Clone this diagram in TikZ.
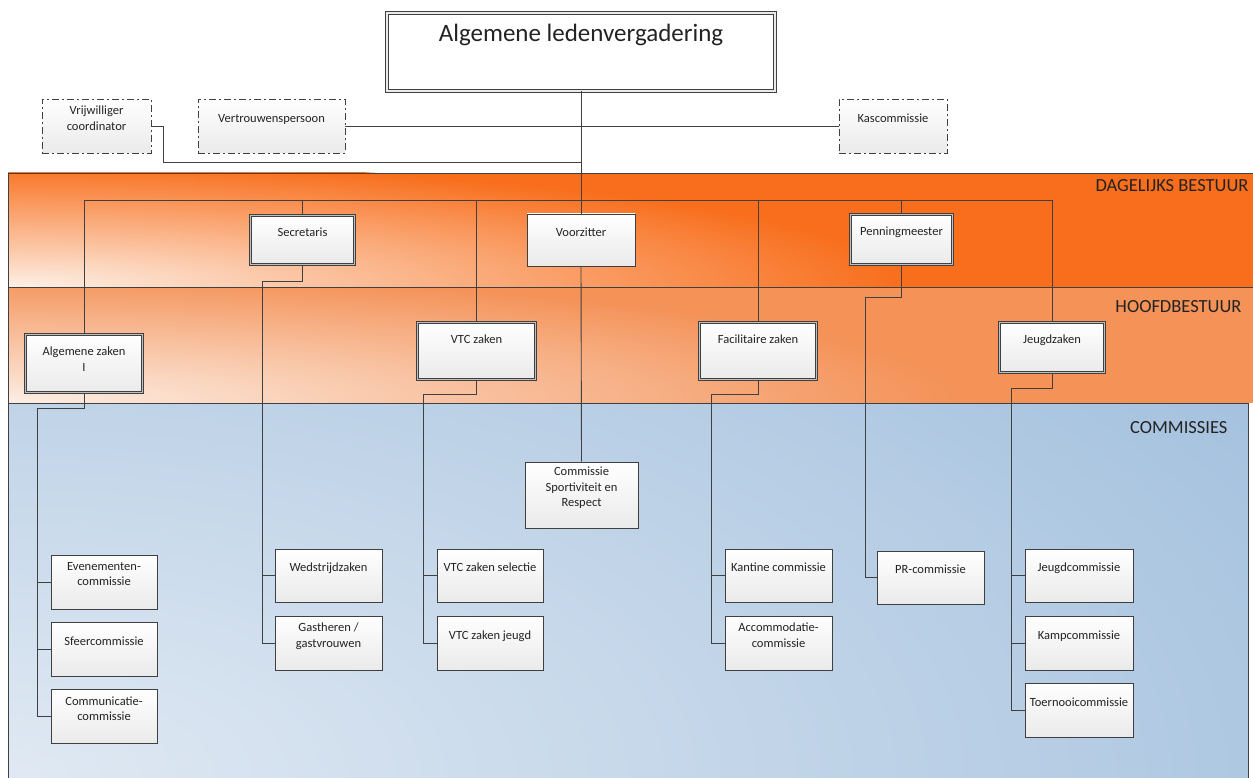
\documentclass[tikz,border=0pt]{standalone}
\usepackage{fontspec}
\setmainfont{Carlito}

\definecolor{dagorange}{RGB}{248,110,28}
\definecolor{daglight}{RGB}{253,240,230}
\definecolor{hborange}{RGB}{244,146,88}
\definecolor{hblight}{RGB}{252,238,228}
\definecolor{comblue}{RGB}{164,193,222}
\definecolor{comlight}{RGB}{224,233,243}
\definecolor{linegray}{RGB}{64,64,64}
\definecolor{boxgray}{RGB}{234,234,234}
\definecolor{textgray}{RGB}{35,35,35}

\begin{document}
\begin{tikzpicture}[x=1pt,y=-1pt,
    box/.style={draw=linegray, line width=0.8pt, top color=white, bottom color=boxgray,
      minimum width=107pt, minimum height=53pt, align=center, text depth=16pt,
      text=textgray, font=\fontsize{12.5}{15.5}\selectfont},
    bestuur/.style={box, double=boxgray!60!gray, double distance=1.6pt},
    extern/.style={box, minimum height=54pt, dash pattern=on 7pt off 3pt on 2pt off 3pt},
    toplevel/.style={draw=linegray, double=boxgray, double distance=1.6pt, line width=1pt,
      fill=white, minimum width=388pt, minimum height=78pt, text depth=38pt,
      text=textgray, font=\fontsize{25}{30}\selectfont},
    band/.style={draw=linegray, line width=0.7pt},
    bandlabel/.style={text=textgray, font=\fontsize{18.5}{20}\selectfont},
    conn/.style={draw=linegray, line width=0.9pt}]
    \useasboundingbox (0,0) rectangle (1253,778);

    % Draw the three bands
    \begin{scope}
      \clip (8,173) rectangle (1253,287);
      \fill[dagorange] (8,173) rectangle (1253,287);
      \shade[inner color=daglight, outer color=dagorange] (8,287) ellipse (900 and 125);
    \end{scope}
    \begin{scope}
      \clip (8,287) rectangle (1253,403);
      \fill[hborange] (8,287) rectangle (1253,403);
      \shade[inner color=hblight, outer color=hborange] (8,403) ellipse (950 and 130);
    \end{scope}
    \begin{scope}
      \clip (8,403) rectangle (1248,778);
      \fill[comblue] (8,403) rectangle (1248,778);
      \shade[inner color=comlight, outer color=comblue] (8,778) ellipse (1500 and 700);
    \end{scope}
    \draw[band] (1260,173) -- (8,173) -- (8,790);
    \draw[band] (8,287) -- (1260,287);
    \draw[band] (8,403) -- (1248,403) -- (1248,790);

    % Band labels
    \node[bandlabel, anchor=east] (daglabel) at (1252,186) {DAGELIJKS BESTUUR};
    \node[bandlabel, anchor=east] (hblabel) at (1245,307) {HOOFDBESTUUR};
    \node[bandlabel, anchor=east] (comlabel) at (1231,428) {COMMISSIES};

    % Top and side boxes
    \node[toplevel] (alv) at (581,52) {Algemene ledenvergadering};
    \node[extern, minimum width=109pt] (vrij) at (96.5,126) {Vrijwilliger\\coordinator};
    \node[extern, minimum width=147pt] (vert) at (271.5,126) {Vertrouwenspersoon};
    \node[extern, minimum width=108pt] (kas) at (893,126) {Kascommissie};

    % Dagelijks bestuur
    \node[bestuur, minimum width=104pt, minimum height=49pt] (sec) at (302.5,240) {Secretaris};
    \node[box, minimum width=108pt, minimum height=52pt] (voo) at (581,240) {Voorzitter};
    \node[bestuur, minimum width=102pt, minimum height=50pt] (pen) at (901.5,239.5) {Penningmeester};

    % Hoofdbestuur
    \node[bestuur, minimum width=117pt, minimum height=58pt, text depth=9pt] (alg) at (84,363.5) {Algemene zaken\\I};
    \node[bestuur, minimum width=118pt, minimum height=57pt, text depth=23pt] (vtc) at (476.5,351) {VTC zaken};
    \node[bestuur, minimum width=117pt, minimum height=57pt, text depth=23pt] (fac) at (758,351) {Facilitaire zaken};
    \node[bestuur, minimum width=105pt, minimum height=50pt] (jz) at (1052,347.5) {Jeugdzaken};

    % Commissies
    \node[box, minimum width=113pt, minimum height=66pt] (csr) at (581.5,495) {Commissie\\Sportiviteit en\\Respect};
    \node[box, minimum height=54pt, minimum width=106pt] (eve) at (104,582) {Evenementen-\\commissie};
    \node[box, minimum height=54pt, minimum width=106pt] (sfe) at (104,649.5) {Sfeercommissie};
    \node[box, minimum height=54pt, minimum width=106pt] (com) at (104,716.5) {Communicatie-\\commissie};
    \node[box] (wed) at (328.5,575.5) {Wedstrijdzaken};
    \node[box, minimum height=54pt] (gas) at (328.5,643) {Gastheren /\\gastvrouwen};
    \node[box, minimum width=106pt] (vsel) at (490,575.5) {VTC zaken selectie};
    \node[box, minimum width=106pt, minimum height=54pt] (vjeu) at (490,643) {VTC zaken jeugd};
    \node[box] (kan) at (778.5,575.5) {Kantine commissie};
    \node[box, minimum height=54pt] (acc) at (778.5,643) {Accommodatie-\\commissie};
    \node[box] (pr) at (930.5,577.5) {PR-commissie};
    \node[box, minimum width=108pt] (jc) at (1079,575.5) {Jeugdcommissie};
    \node[box, minimum width=108pt, minimum height=54pt] (kamp) at (1079,643) {Kampcommissie};
    \node[box, minimum width=108pt, minimum height=54pt] (toer) at (1079,710) {Toernooicommissie};

    % Bends of the connectors
    \coordinate (vrijbend) at (163,162);
    \coordinate (trunkjoin) at (581,162);
    \coordinate (busL) at (84,200);
    \coordinate (busR) at (1052,200);
    \coordinate (algcol) at (37,408);
    \coordinate (seccol) at (262,281);
    \coordinate (vtccol) at (423,394);
    \coordinate (faccol) at (711,394);
    \coordinate (pencol) at (865,297);
    \coordinate (jzcol) at (1011,388);

    % Connectors
    \draw[conn] (alv.south) -- (voo.north);
    \draw[conn] (voo.south) -- (csr.north);
    \draw[conn] (vert.east) -- (kas.west);
    \draw[conn] (vrij.east) -| (vrijbend) -- (trunkjoin);
    \draw[conn] (alg.north) -- (busL) -- (busR) -- (jz.north);
    \foreach \n in {sec,vtc,fac,pen}
      \draw[conn] (\n.north) -- (\n.north |- busL);
    \draw[conn] (alg.south) |- (algcol) |- (com.west);
    \foreach \n in {eve,sfe}
      \draw[conn] (\n.west) -- (\n.west -| algcol);
    \draw[conn] (sec.south) |- (seccol) |- (gas.west);
    \draw[conn] (wed.west) -- (wed.west -| seccol);
    \draw[conn] (vtc.south) |- (vtccol) |- (vjeu.west);
    \draw[conn] (vsel.west) -- (vsel.west -| vtccol);
    \draw[conn] (fac.south) |- (faccol) |- (acc.west);
    \draw[conn] (kan.west) -- (kan.west -| faccol);
    \draw[conn] (pen.south) |- (pencol) |- (pr.west);
    \draw[conn] (jz.south) |- (jzcol) |- (toer.west);
    \foreach \n in {jc,kamp}
      \draw[conn] (\n.west) -- (\n.west -| jzcol);
\end{tikzpicture}
\end{document}
